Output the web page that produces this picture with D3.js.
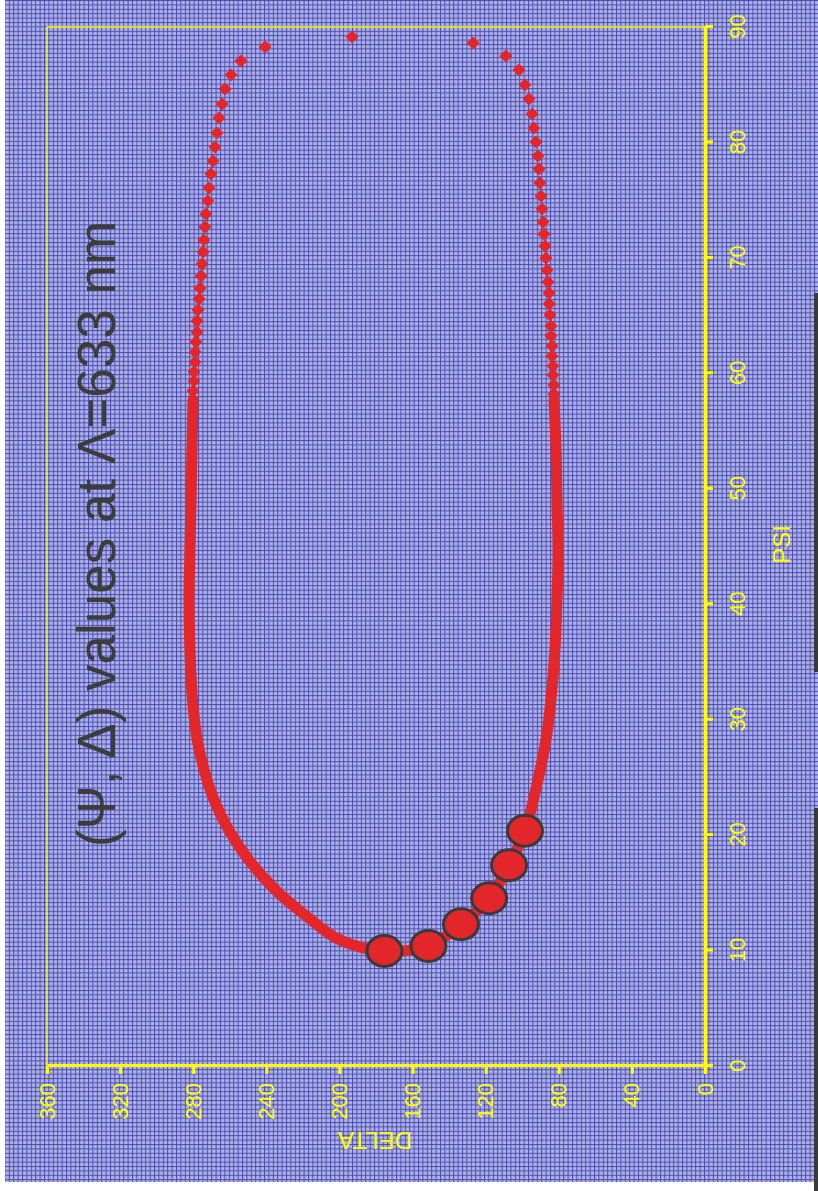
<!DOCTYPE html>
<html>
<head>
<meta charset="utf-8">
<script src="https://cdn.jsdelivr.net/npm/d3@7"></script>
<style>
  html, body { margin: 0; padding: 0; background: #ffffff; }
  svg { display: block; }
</style>
</head>
<body>
<script>
// ---- data: (PSI, DELTA) pairs in degrees ----
const psiTicks = [0, 10, 20, 30, 40, 50, 60, 70, 80, 90];
const deltaTicks = [0, 40, 80, 120, 160, 200, 240, 280, 320, 360];

// dense part of the upper branch (drawn as a thick trace)
const curveUpper = [
  [57.69, 280.1], [53.36, 280.7], [49.03, 281.2], [44.70, 281.8], [40.37, 282.3],
  [36.04, 281.8], [31.70, 280.4], [28.24, 277.8], [25.64, 274.0], [23.04, 268.6],
  [20.44, 260.6], [17.85, 249.6], [15.25, 235.0], [13.08, 218.8], [10.91, 199.7]
];
// dense part of the lower branch
const curveLower = [
  [24.77, 91.4], [28.24, 87.0], [31.70, 84.3], [36.04, 82.1], [40.37, 81.0],
  [44.70, 80.4], [49.03, 81.0], [53.36, 81.5], [57.69, 82.6]
];
// separated points near PSI = 90
const dotsUpper = [
  [89.14, 193.1], [88.27, 240.7], [87.06, 253.9], [85.85, 259.3], [84.63, 262.6],
  [83.33, 264.2], [82.12, 265.9], [80.82, 267.0], [79.61, 268.1], [78.40, 269.2],
  [77.27, 270.3], [76.06, 271.4], [74.93, 272.0], [73.80, 273.0], [72.68, 273.6],
  [71.55, 274.2], [70.51, 274.6], [69.47, 275.2], [68.43, 275.7], [67.39, 276.3],
  [66.44, 276.8], [65.49, 277.4], [64.54, 277.9], [63.58, 277.9], [62.72, 278.5],
  [61.85, 279.0], [60.98, 279.0], [60.12, 279.6], [59.34, 279.6], [58.47, 280.1]
];
const dotsLower = [
  [88.62, 126.9], [87.49, 108.9], [86.28, 101.8], [84.98, 98.5], [83.77, 96.3],
  [82.47, 94.6], [81.25, 93.6], [80.04, 92.5], [78.83, 91.4], [77.70, 90.8],
  [76.49, 90.3], [75.36, 89.7], [74.24, 89.2], [73.11, 88.6], [72.07, 88.1],
  [71.03, 87.5], [69.99, 87.0], [68.95, 86.4], [67.91, 85.9], [66.96, 85.3],
  [66.01, 85.3], [65.06, 84.8], [64.10, 84.3], [63.24, 84.3], [62.37, 83.7],
  [61.50, 83.7], [60.64, 83.2], [59.86, 83.2], [58.99, 82.6], [58.21, 82.6]
];
// highlighted measurement points
const highlighted = [
  [9.96, 175.4], [10.40, 151.3], [12.28, 133.5], [14.53, 118.1], [17.39, 107.2], [20.38, 98.5]
];

const titleText = "(\u03A8, \u0394) values at \u039B=633 nm";
const xLabel = "PSI";
const yLabel = "DELTA";

// ---- layout ----
const W = 818, H = 1191;
const plotW = 1039, plotH = 658;
const red = "#e3262a";
const yellow = "#ffff00";
const font = "'Liberation Sans', Arial, sans-serif";

const svg = d3.select("body").append("svg")
  .attr("width", W).attr("height", H);

// fine blue grid background
const defs = svg.append("defs");
const pat = defs.append("pattern")
  .attr("id", "grid")
  .attr("patternUnits", "userSpaceOnUse")
  .attr("width", 4.4).attr("height", 4.4);
pat.append("rect").attr("width", 4.4).attr("height", 4.4).attr("fill", "#aeb1ea");
pat.append("rect").attr("x", 0).attr("y", 0).attr("width", 1.0).attr("height", 4.4).attr("fill", "#4a4dab");
pat.append("rect").attr("x", 0).attr("y", 0).attr("width", 4.4).attr("height", 1.0).attr("fill", "#4a4dab");

svg.append("rect")
  .attr("x", 5).attr("y", 0).attr("width", W - 5).attr("height", 1182)
  .attr("fill", "url(#grid)");

// dark edge strips on the right
svg.append("rect").attr("x", 814).attr("y", 293).attr("width", 4).attr("height", 379).attr("fill", "#3a3a3a");
svg.append("rect").attr("x", 814).attr("y", 808).attr("width", 4).attr("height", H - 808).attr("fill", "#3a3a3a");

// chart group, turned a quarter turn counter-clockwise
const g = svg.append("g").attr("transform", "translate(47,1066) rotate(-90)");

const x = d3.scaleLinear().domain([0, 90]).range([0, plotW]);
const y = d3.scaleLinear().domain([0, 360]).range([plotH, 0]);

// thin frame on the two far sides
g.append("line").attr("x1", 0).attr("y1", 0).attr("x2", plotW).attr("y2", 0)
  .attr("stroke", yellow).attr("stroke-width", 1.3);
g.append("line").attr("x1", plotW).attr("y1", 0).attr("x2", plotW).attr("y2", plotH)
  .attr("stroke", yellow).attr("stroke-width", 1.3);

// axes
const xAxis = g.append("g")
  .attr("transform", `translate(0,${plotH})`)
  .call(d3.axisBottom(x).tickValues(psiTicks).tickSize(8).tickSizeOuter(0).tickPadding(16));
const yAxis = g.append("g")
  .call(d3.axisLeft(y).tickValues(deltaTicks).tickSize(8).tickSizeOuter(0).tickPadding(9));

[xAxis, yAxis].forEach(a => {
  a.attr("font-family", font).attr("font-size", 22);
  a.select(".domain").attr("stroke", yellow).attr("stroke-width", 3.2);
  a.selectAll(".tick line").attr("stroke", yellow).attr("stroke-width", 3);
  a.selectAll(".tick text").attr("fill", yellow);
});

// axis titles
g.append("text")
  .attr("x", x(45) + 2).attr("y", plotH + 85)
  .attr("text-anchor", "middle")
  .attr("font-family", font).attr("font-size", 24)
  .attr("fill", yellow)
  .text(xLabel);
g.append("text")
  .attr("transform", `translate(-66,${y(180) - 1}) rotate(-90)`)
  .attr("text-anchor", "middle")
  .attr("font-family", font).attr("font-size", 24)
  .attr("fill", yellow)
  .text(yLabel);

// chart title
g.append("text")
  .attr("x", 532).attr("y", 68)
  .attr("text-anchor", "middle")
  .attr("font-family", font).attr("font-size", 53)
  .attr("fill", "#3c3c3c")
  .text(titleText);

// thick trace: upper branch -> highlighted points -> lower branch
const trace = curveUpper.concat(highlighted, curveLower);
const line = d3.line()
  .x(d => x(d[0]))
  .y(d => y(d[1]))
  .curve(d3.curveCatmullRom.alpha(0.5));
g.append("path")
  .attr("d", line(trace))
  .attr("fill", "none")
  .attr("stroke", red)
  .attr("stroke-width", 11)
  .attr("stroke-linecap", "round")
  .attr("stroke-linejoin", "round");

// separated markers
const diamond = d3.symbol().type(d3.symbolSquare).size(48);
g.selectAll("path.dot")
  .data(dotsUpper.concat(dotsLower))
  .join("path")
  .attr("class", "dot")
  .attr("d", diamond)
  .attr("transform", d => `translate(${x(d[0])},${y(d[1])}) rotate(45)`)
  .attr("fill", red)
  .attr("stroke", red)
  .attr("stroke-width", 2.5)
  .attr("stroke-linejoin", "round");

// highlighted points
g.selectAll("ellipse.hl")
  .data(highlighted)
  .join("ellipse")
  .attr("class", "hl")
  .attr("cx", d => x(d[0]))
  .attr("cy", d => y(d[1]))
  .attr("rx", 15.5)
  .attr("ry", 17.5)
  .attr("fill", red)
  .attr("stroke", "#3a3a3a")
  .attr("stroke-width", 3);
</script>
</body>
</html>
